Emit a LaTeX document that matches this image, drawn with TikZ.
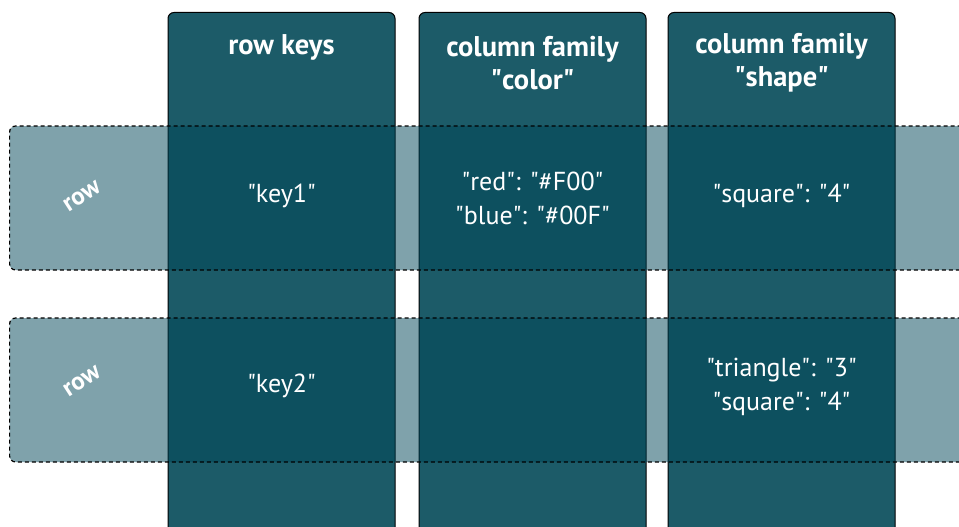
\documentclass[tikz,border=0pt]{standalone}
\usepackage{fontspec}
\setmainfont{PT Sans}
\usetikzlibrary{positioning}
\definecolor{Teal}{HTML}{1C5B68}
\definecolor{RowTeal}{HTML}{004658}
\newcommand{\dq}{\textquotedbl}

\begin{document}
\begin{tikzpicture}[x=1pt,y=1pt,
  colbox/.style={draw=black,line width=1pt,fill=Teal,rounded corners=6pt,anchor=north,
    minimum width=227pt,minimum height=560pt,inner sep=0pt},
  rowbox/.style={draw=black,line width=1.2pt,dash pattern=on 4pt off 3pt,fill=RowTeal,fill opacity=0.5,
    rounded corners=6pt,anchor=west,minimum width=1000pt,minimum height=144pt,inner sep=0pt},
  hdr/.style={text=white,align=center,font=\bfseries\fontsize{28.5}{33}\selectfont},
  cell/.style={text=white,align=center,font=\fontsize{26}{34}\selectfont},
  lbl/.style={text=white,rotate=33,font=\bfseries\fontsize{25}{28}\selectfont}]
\useasboundingbox (0,0) rectangle (959,-527);
\clip (0,0) rectangle (959,-527);
\def\xA{281.5}\def\xB{532.5}\def\xC{781.5}
% columns
\node[colbox] (keys) at (\xA,-12) {};
\node[colbox] (color) at (\xB,-12) {};
\node[colbox] (shape) at (\xC,-12) {};
% rows on top
\node[rowbox] (rowA) at (9,-198) {};
\node[rowbox] (rowB) at (9,-390) {};
% headers
\node[hdr] (hkeys) at (\xA,-47) {row keys};
\node[hdr] (hcolor) at (\xB,-63) {column family\\\dq color\dq};
\node[hdr] (hshape) at (\xC,-63) {column family\\\dq shape\dq};
% row labels
\node[lbl] (lblA) at (82,-196) {row};
\node[lbl] (lblB) at (82,-381) {row};
% cells
\node[cell] (key1) at (\xA,-196) {\dq key1\dq};
\node[cell] (c1) at (\xB,-198) {\dq red\dq: \dq\#F00\dq\\\dq blue\dq: \dq\#00F\dq};
\node[cell] (s1) at (\xC,-196) {\dq square\dq: \dq 4\dq};
\node[cell] (key2) at (\xA,-386) {\dq key2\dq};
\node[cell] (s2) at (\xC,-386.5) {\dq triangle\dq: \dq 3\dq\\\dq square\dq: \dq 4\dq};
\end{tikzpicture}
\end{document}
